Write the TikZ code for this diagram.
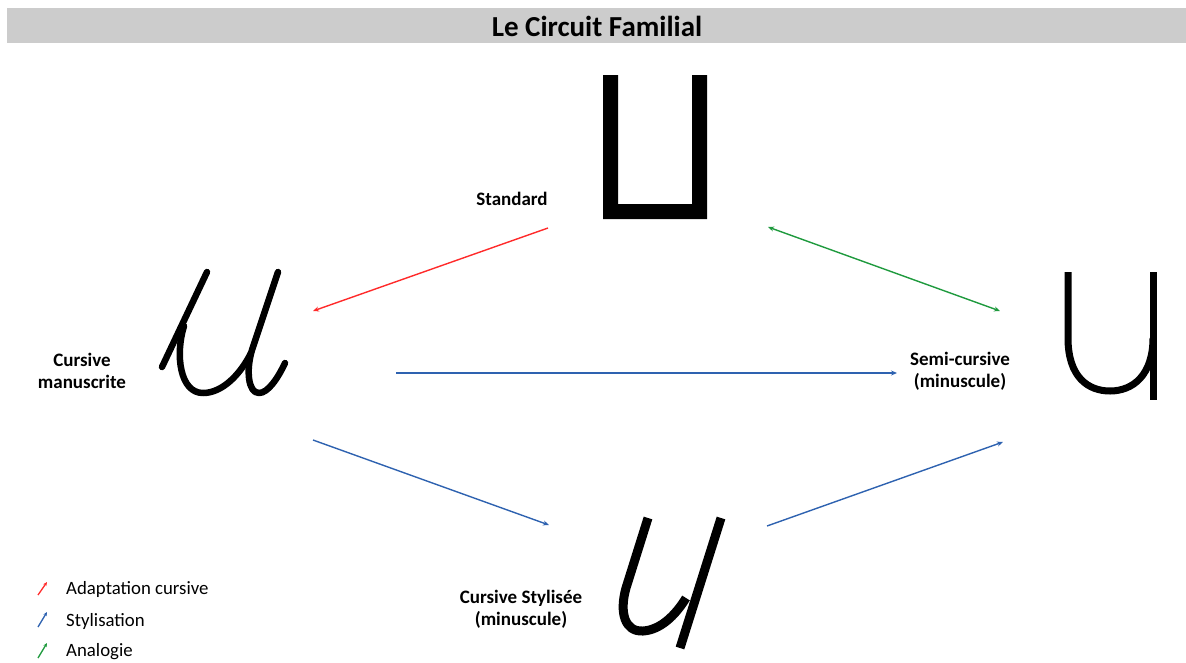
\documentclass[tikz,border=0pt]{standalone}
\usepackage{fontspec}
\setmainfont{Carlito}
\usetikzlibrary{arrows.meta}
\definecolor{barGray}{HTML}{CCCCCC}
\definecolor{cRed}{HTML}{FF2A2A}
\definecolor{cBlue}{HTML}{2E62B0}
\definecolor{cGreen}{HTML}{1F9A3E}
\tikzset{
  lbl/.style={font=\bfseries\fontsize{19}{22}\selectfont, align=center, inner sep=0pt},
  leg/.style={font=\fontsize{18.8}{22}\selectfont, anchor=west, inner sep=0pt},
  conn/.style={line width=1.4pt, -{Stealth[length=6pt,width=5pt]}},
  glyph/.style={line width=6.5pt, line cap=round, line join=round},
  legarrow/.style={line width=1.3pt, -{Stealth[length=4pt,width=3.5pt]}}
}
\begin{document}
\begin{tikzpicture}[x=1pt,y=-1pt]
\useasboundingbox (0,0) rectangle (1186,662);
% title bar
\fill[barGray] (7,8) rectangle (1186,43);
\node[font=\bfseries\fontsize{29}{32}\selectfont, inner sep=0pt] (title) at (597,26) {Le Circuit Familial};

% Standard glyph
\fill[black] (603,75) -- (603,219) -- (707,219) -- (707,75) -- (692,75) -- (692,204) -- (618,204) -- (618,75) -- cycle;
\node[lbl] (std) at (512,199) {Standard};

% Cursive manuscrite glyph
\draw[glyph] (162,367) -- (207,272);
\draw[glyph] (184,326) .. controls (175,355) and (180,393) .. (203,393) .. controls (222,393) and (240,375) .. (251,353);
\draw[glyph] (278,272) -- (252,350) .. controls (246,370) and (248,393) .. (259,393) .. controls (268,393) and (278,378) .. (285,363);
\node[lbl] (cm) at (82,371) {Cursive\\manuscrite};

% Semi-cursive glyph
\draw[line width=7pt] (1068,272) -- (1068,338) .. controls (1068,377) and (1088,391) .. (1110,391) .. controls (1133,391) and (1153,375) .. (1153,338);
\draw[line width=7pt] (1153,272) -- (1153,400);
\node[lbl] (sc) at (960,371) {Semi-cursive\\(minuscule)};

% Cursive stylisee glyph
\draw[line width=9pt, line cap=butt] (648,518) -- (626,588) .. controls (619,613) and (625,632) .. (643,631) .. controls (660,630) and (675,616) .. (686,598);
\draw[line width=9pt, line cap=butt] (721,518) -- (680,648);
\node[lbl] (cs) at (521,609) {Cursive Stylisée\\(minuscule)};

% connector endpoints
\coordinate (rA) at (548,228);
\coordinate (rB) at (313,311);
\coordinate (gA) at (768,227);
\coordinate (gB) at (1000,311);
\coordinate (b1A) at (396,373);
\coordinate (b1B) at (897,373);
\coordinate (b2A) at (313,440);
\coordinate (b2B) at (549,525);
\coordinate (b3A) at (767,526);
\coordinate (b3B) at (1003,442);

\draw[conn, cRed] (rA) -- (rB);
\draw[conn, cGreen, {Stealth[length=6pt,width=5pt]}-{Stealth[length=6pt,width=5pt]}] (gA) -- (gB);
\draw[conn, cBlue] (b1A) -- (b1B);
\draw[conn, cBlue] (b2A) -- (b2B);
\draw[conn, cBlue] (b3A) -- (b3B);

% legend
\coordinate (l1a) at (38,595); \coordinate (l1b) at (47,582);
\coordinate (l2a) at (38,627); \coordinate (l2b) at (47,612);
\coordinate (l3a) at (38,658); \coordinate (l3b) at (47,643);
\draw[legarrow, cRed] (l1a) -- (l1b);
\draw[legarrow, cBlue] (l2a) -- (l2b);
\draw[legarrow, cGreen] (l3a) -- (l3b);
\node[leg] (t1) at (66,589) {Adaptation cursive};
\node[leg] (t2) at (66,621) {Stylisation};
\node[leg] (t3) at (66,652) {Analogie};
\end{tikzpicture}
\end{document}
